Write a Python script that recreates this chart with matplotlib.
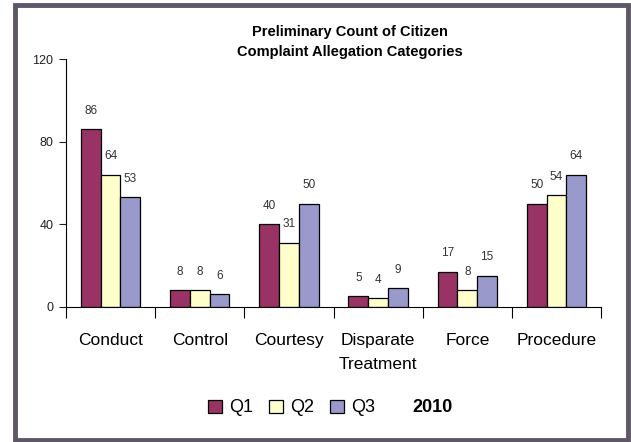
import matplotlib
matplotlib.use('Agg')
import matplotlib.pyplot as plt
import numpy as np
from matplotlib.patches import Rectangle

plt.rcParams['font.family'] = ['Liberation Sans', 'DejaVu Sans']

categories = ['Conduct', 'Control', 'Courtesy', 'Disparate\nTreatment', 'Force', 'Procedure']
q1 = [86, 8, 40, 5, 17, 50]
q2 = [64, 8, 31, 4, 8, 54]
q3 = [53, 6, 50, 9, 15, 64]
series_names = ['Q1', 'Q2', 'Q3']
colors = ['#993366', '#FFFFCC', '#9999CC']
yticks = [0, 40, 80, 120]

fig = plt.figure(figsize=(6.31, 4.42), dpi=100)
ax = fig.add_axes([0.1046, 0.306, 0.848, 0.560])

x = np.arange(len(categories))
w = 0.222
bars = []
for i, (vals, col, name) in enumerate(zip([q1, q2, q3], colors, series_names)):
    b = ax.bar(x + (i - 1) * w, vals, w, color=col, edgecolor='black', linewidth=0.9, label=name)
    bars.append(b)
    for xi, v in zip(x + (i - 1) * w, vals):
        ax.annotate(str(v), (xi, v), xytext=(0, 9), textcoords='offset points',
                    ha='center', va='bottom', fontsize=8.5, color='#333333')

ax.set_xlim(-0.5, len(categories) - 0.5)
ax.set_ylim(0, 120)
ax.set_yticks(yticks)
ax.tick_params(axis='y', length=5, width=0.8, labelsize=9, pad=4, colors='#222222')
ax.set_xticks(x)
ax.set_xticklabels(categories, fontsize=12.5, linespacing=1.75)
ax.tick_params(axis='x', which='major', length=0, pad=19)
ax.set_xticks(np.arange(-0.5, len(categories)), minor=True)
ax.tick_params(axis='x', which='minor', length=8, width=0.8, direction='out')
for s in ['top', 'right']:
    ax.spines[s].set_visible(False)
ax.spines['left'].set_linewidth(0.8)
ax.spines['bottom'].set_linewidth(0.8)

fig.text(0.555, 0.905, 'Preliminary Count of Citizen\nComplaint Allegation Categories',
         ha='center', va='center', fontsize=10.5, fontweight='bold', linespacing=1.6)

leg = fig.legend(handles=bars, labels=series_names, loc='center', bbox_to_anchor=(0.462, 0.077),
                 ncol=3, frameon=False, handlelength=0.75, handleheight=0.75,
                 handletextpad=0.4, columnspacing=0.9, prop={'size': 13})
fig.text(0.685, 0.077, '2010', ha='center', va='center', fontsize=13, fontweight='bold')

fig.patches.append(Rectangle((0.0238, 0.0045), 0.9715, 0.984, transform=fig.transFigure,
                             fill=False, edgecolor='#5f5766', linewidth=3.5))

fig.savefig('out.png', dpi=100)
